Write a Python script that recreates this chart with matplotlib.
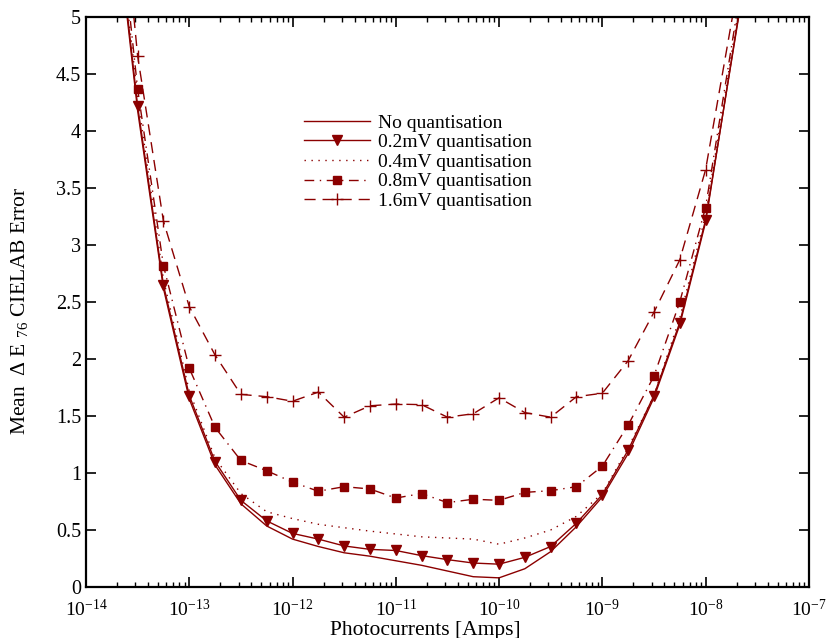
import matplotlib
matplotlib.use("Agg")
import matplotlib.pyplot as plt
import numpy as np
from matplotlib.ticker import FixedLocator, LogLocator, NullFormatter

plt.rcParams['font.family'] = ['Liberation Serif', 'DejaVu Serif']
plt.rcParams['mathtext.fontset'] = 'custom'
plt.rcParams['mathtext.rm'] = 'Liberation Serif'
plt.rcParams['mathtext.it'] = 'Liberation Serif:italic'

# log10 of photocurrent
log_current = [-13.75, -13.5, -13.25, -13.0, -12.75, -12.5, -12.25, -12.0,
               -11.75, -11.5, -11.25, -11.0, -10.75, -10.5, -10.25, -10.0,
               -9.75, -9.5, -9.25, -9.0, -8.75, -8.5, -8.25, -8.0, -7.5]

no_quant = [6.2, 4.18, 2.62, 1.65, 1.07, 0.73, 0.535, 0.42,
            0.355, 0.30, 0.27, 0.23, 0.19, 0.14, 0.09, 0.08,
            0.16, 0.31, 0.53, 0.79, 1.17, 1.66, 2.30, 3.20, 6.04]
q_02mv = [6.25, 4.22, 2.65, 1.68, 1.10, 0.76, 0.58, 0.47,
          0.42, 0.36, 0.33, 0.32, 0.275, 0.24, 0.21, 0.20,
          0.26, 0.355, 0.56, 0.81, 1.20, 1.68, 2.32, 3.22, 6.0]
q_04mv = [6.3, 4.30, 2.70, 1.72, 1.13, 0.82, 0.66, 0.60,
          0.55, 0.52, 0.49, 0.465, 0.44, 0.43, 0.42, 0.375,
          0.43, 0.50, 0.62, 0.82, 1.22, 1.68, 2.36, 3.26, 6.08]
q_08mv = [6.5, 4.37, 2.82, 1.92, 1.40, 1.11, 1.02, 0.92,
          0.84, 0.88, 0.86, 0.78, 0.82, 0.74, 0.77, 0.76,
          0.83, 0.845, 0.88, 1.06, 1.42, 1.85, 2.50, 3.33, 6.14]
q_16mv = [7.0, 4.66, 3.21, 2.46, 2.035, 1.69, 1.67, 1.63,
          1.71, 1.49, 1.59, 1.605, 1.60, 1.49, 1.52, 1.66,
          1.53, 1.49, 1.67, 1.70, 1.985, 2.41, 2.87, 3.66, 6.24]

labels = ['No quantisation', '0.2mV quantisation', '0.4mV quantisation',
          '0.8mV quantisation', '1.6mV quantisation']

x_decades = [-14, -13, -12, -11, -10, -9, -8, -7]
y_ticks = [0, 0.5, 1, 1.5, 2, 2.5, 3, 3.5, 4, 4.5, 5]
y_ticklabels = ['0', '0.5', '1', '1.5', '2', '2.5', '3', '3.5', '4', '4.5', '5']

col = '#8b0000'
x = 10.0 ** np.array(log_current)

fig = plt.figure(figsize=(8.27, 6.38), dpi=100)
ax = fig.add_axes([0.104, 0.080, 0.874, 0.893])

ax.plot(x, no_quant, color=col, lw=1.0, label=labels[0])
ax.plot(x, q_02mv, color=col, lw=1.0, marker='v', ms=6.5, label=labels[1])
ax.plot(x, q_04mv, color=col, lw=1.0, linestyle=(0, (1, 4)), label=labels[2])
ax.plot(x, q_08mv, color=col, lw=1.0, linestyle=(0, (7, 4, 1, 4)),
        marker='s', ms=5.5, label=labels[3])
ax.plot(x, q_16mv, color=col, lw=1.0, linestyle=(0, (8, 5)),
        marker='+', ms=8, mew=1.0, label=labels[4])

ax.set_xscale('log')
ax.set_xlim(1e-14, 1e-7)
ax.set_ylim(0, 5)

xt = [10.0 ** d for d in x_decades]
ax.xaxis.set_major_locator(FixedLocator(xt))
ax.set_xticklabels([r'$10^{%d}$' % d for d in x_decades])
ax.xaxis.set_minor_locator(LogLocator(base=10, subs=np.arange(2, 10), numticks=100))
ax.xaxis.set_minor_formatter(NullFormatter())
ax.yaxis.set_major_locator(FixedLocator(y_ticks))
ax.set_yticklabels(y_ticklabels)

ax.tick_params(which='both', direction='in', top=True, right=True, labelsize=14.5)
ax.tick_params(axis='x', which='major', pad=8.5, labelsize=14)
ax.tick_params(which='major', length=7, width=1.2)
ax.tick_params(which='minor', length=3.5, width=1.0)
for s in ax.spines.values():
    s.set_linewidth(1.6)

ax.set_xlabel('Photocurrents [Amps]', fontsize=15.5)
ax.xaxis.set_label_coords(0.47, -0.059)
ax.set_ylabel(r'Mean  $\Delta$ E $_{76}$ CIELAB Error', fontsize=15.5)
ax.yaxis.set_label_coords(-0.078, 0.485)

ax.legend(loc='upper left', bbox_to_anchor=(0.302, 0.83), frameon=False,
          fontsize=14, handlelength=3.4, handletextpad=0.4,
          labelspacing=0.1, borderpad=0, borderaxespad=0)

fig.savefig('out.png', dpi=100)
